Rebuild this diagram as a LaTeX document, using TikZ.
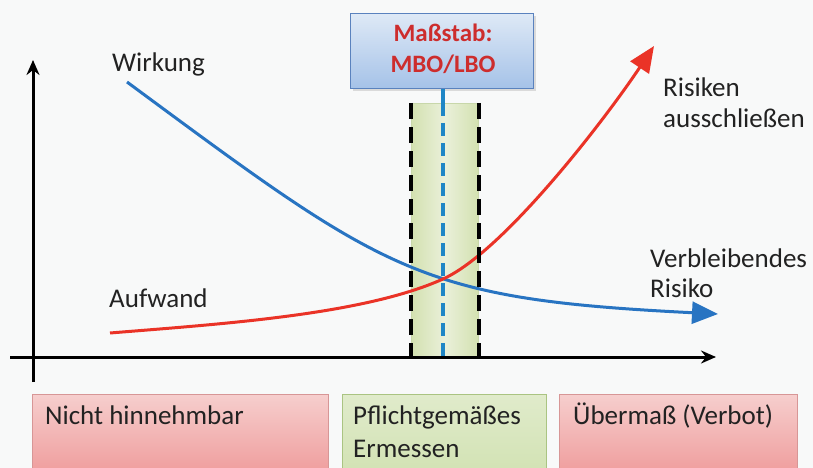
\documentclass[tikz,border=0pt]{standalone}
\usepackage{fontspec}
\setmainfont{Carlito}
\usetikzlibrary{arrows.meta}
\definecolor{txt}{HTML}{222222}
\definecolor{bluec}{HTML}{2874C2}
\definecolor{redc}{HTML}{EA3327}
\definecolor{dashblue}{HTML}{1F86C6}
\definecolor{bg}{HTML}{F8F9F9}
\definecolor{rngdark}{HTML}{D3E1B0}
\definecolor{rnglight}{HTML}{EAF0DA}
\tikzset{
  lbl/.style={font=\fontsize{27}{32}\selectfont, text=txt, inner sep=0pt, anchor=base west},
  mlbl/.style={font=\bfseries\fontsize{25}{30}\selectfont, text={rgb,255:red,205;green,45;blue,45}, inner sep=0pt, anchor=base},
  redbox/.style={draw={rgb,255:red,215;green,150;blue,150}, line width=1.2pt, top color={rgb,255:red,246;green,206;blue,205}, bottom color={rgb,255:red,238;green,150;blue,150}, anchor=north west, minimum width=#1, minimum height=90pt, inner sep=0pt},
  greenbox/.style={draw={rgb,255:red,170;green,196;blue,130}, line width=1.2pt, top color={rgb,255:red,224;green,235;blue,203}, bottom color={rgb,255:red,208;green,225;blue,176}, anchor=north west, minimum width=#1, minimum height=90pt, inner sep=0pt},
  curve/.style={line width=3pt, -{Triangle[length=26pt,width=22pt]}},
  axis/.style={line width=3pt, -{Stealth[length=15pt,width=13pt,inset=5pt]}},
  blkdash/.style={line width=4pt, dash pattern=on 16pt off 8pt},
}
\begin{document}
\begin{tikzpicture}[x=1pt,y=-1pt]
\useasboundingbox (0,0) rectangle (813,468);
\clip (0,0) rectangle (813,468);
\fill[bg] (0,0) rectangle (813,468);

% green range
\node[left color=rngdark, right color=rngdark, middle color=rnglight, draw={rgb,255:red,200;green,215;blue,170}, line width=0.8pt, anchor=north west, minimum width=67pt, minimum height=254pt, inner sep=0pt] (range) at (411,103) {};

% axes
\coordinate (yb) at (33,382);
\coordinate (yt) at (33,60);
\coordinate (xl) at (10,357);
\coordinate (xr) at (716,357);
\draw[axis] (yb) -- (yt);
\draw[axis] (xl) -- (xr);

% curves
\coordinate (bs) at (127,82);
\coordinate (be) at (718,314);
\coordinate (rs) at (110,333);
\coordinate (cross) at (443,279);
\coordinate (re) at (654,46);
\draw[curve, bluec] (bs) .. controls (387,274) and (418,299) .. (be);
\draw[line width=3pt, redc] (rs) .. controls (220,324) and (363,315) .. (cross);
\draw[curve, redc] (cross) .. controls (503,252) and (604,121) .. (re);

% dashed boundaries
\draw[blkdash] (range.north west) -- (range.south west);
\draw[blkdash] (range.north east) -- (range.south east);

% scale box
\fill[gray!45, opacity=0.6] (353,16) rectangle (536,91);
\node[draw={rgb,255:red,90;green,130;blue,190}, line width=1.2pt, top color={rgb,255:red,222;green,233;blue,246}, bottom color={rgb,255:red,165;green,194;blue,232}, anchor=north west, minimum width=183pt, minimum height=75pt, inner sep=0pt] (mass) at (350,13) {};
\node[mlbl] (m1) at (443,42) {Maßstab:};
\node[mlbl] (m2) at (443,73) {MBO/LBO};

\coordinate (axc) at (443,357);
\draw[dashblue, line width=3.5pt] (mass.south -| axc) -- (range.north -| axc);
\draw[dashblue, line width=3.5pt, dash pattern=on 13pt off 7pt] (range.north -| axc) -- (axc);

% labels
\node[lbl] (wirk) at (112,72) {Wirkung};
\node[lbl] (aufw) at (109,307) {Aufwand};
\node[lbl] (ris1) at (663,97) {Risiken};
\node[lbl] (ris2) at (663,128) {ausschließen};
\node[lbl] (ver1) at (650,267) {Verbleibendes};
\node[lbl] (ver2) at (650,297) {Risiko};

% bottom boxes
\node[redbox=296pt] (b1) at (32,394) {};
\node[greenbox=204pt] (b2) at (342,394) {};
\node[redbox=238pt] (b3) at (559,394) {};
\node[lbl] (t1) at (45,424) {Nicht hinnehmbar};
\node[lbl] (t2) at (353,424) {Pflichtgemäßes};
\node[lbl] (t3) at (353,457) {Ermessen};
\node[lbl] (t4) at (573,424) {Übermaß (Verbot)};
\end{tikzpicture}
\end{document}
